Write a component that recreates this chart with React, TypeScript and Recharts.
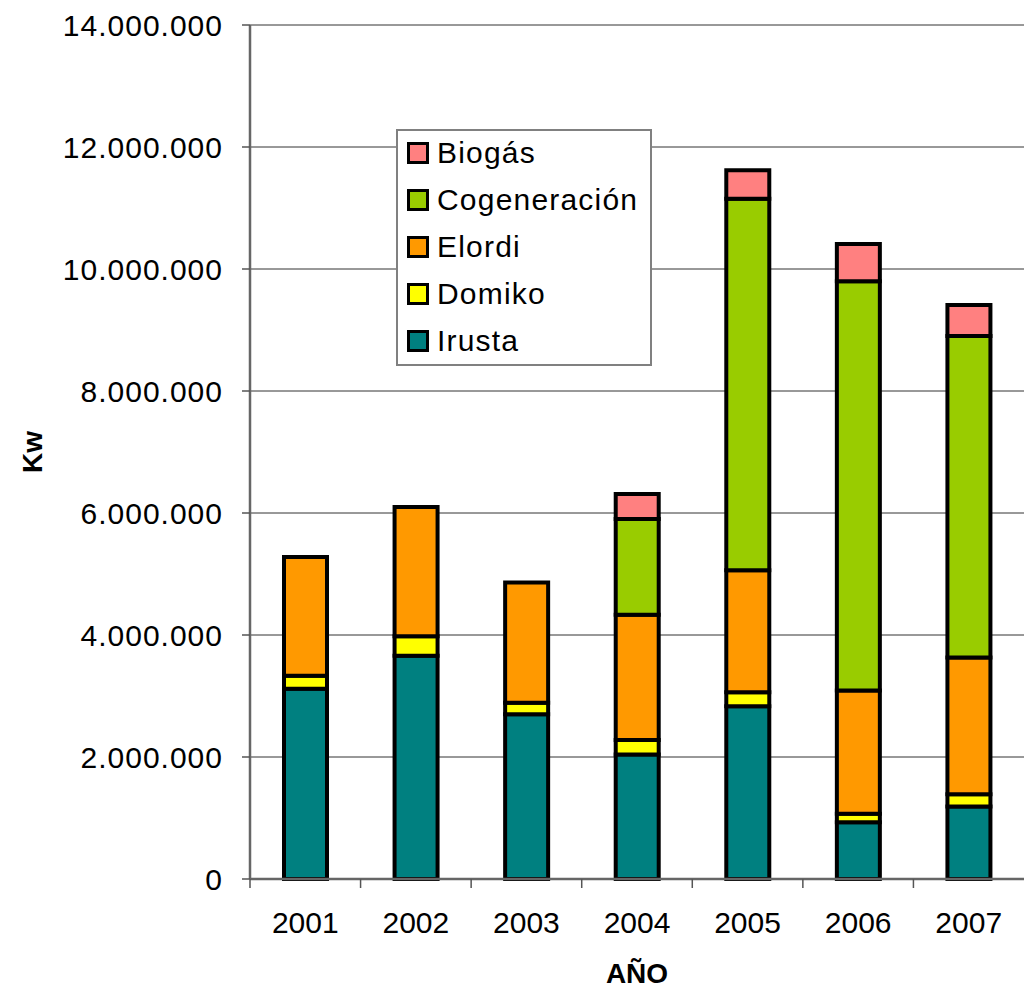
import { BarChart, Bar, XAxis, YAxis, CartesianGrid, Legend, Label } from 'recharts';

const years = ['2001', '2002', '2003', '2004', '2005', '2006', '2007'];

// kW per source
const irusta = [3120000, 3660000, 2700000, 2040000, 2830000, 930000, 1190000];
const domiko = [210000, 320000, 190000, 240000, 230000, 140000, 200000];
const elordi = [1950000, 2120000, 1970000, 2050000, 2000000, 2020000, 2240000];
const cogeneracion = [0, 0, 0, 1570000, 6090000, 6710000, 5270000];
const biogas = [0, 0, 0, 410000, 470000, 610000, 510000];

const yTicks = [0, 2000000, 4000000, 6000000, 8000000, 10000000, 12000000, 14000000];

const series = [
  { key: 'irusta', name: 'Irusta', color: '#008080', values: irusta },
  { key: 'domiko', name: 'Domiko', color: '#FFFF00', values: domiko },
  { key: 'elordi', name: 'Elordi', color: '#FF9900', values: elordi },
  { key: 'cogeneracion', name: 'Cogeneración', color: '#99CC00', values: cogeneracion },
  { key: 'biogas', name: 'Biogás', color: '#FF8080', values: biogas },
];

const data = years.map((year, i) => {
  const row: Record<string, string | number> = { year };
  series.forEach((s) => {
    row[s.key] = s.values[i];
  });
  return row;
});

const FONT = '"Liberation Sans", Arial, Helvetica, sans-serif';
const WIDTH = 1025;
const HEIGHT = 990;
const MARGIN = { top: 25, right: 1, bottom: 0, left: 0 };
const Y_AXIS_WIDTH = 250;
const X_AXIS_HEIGHT = 111;
const PLOT_BOTTOM = HEIGHT - X_AXIS_HEIGHT;
const HALF_BAND = (WIDTH - MARGIN.right - Y_AXIS_WIDTH) / years.length / 2;

const formatKw = (v: number) => v.toLocaleString('de-DE');

// year label plus a tick mark on the category boundary
const XTick = (props: any) => {
  const { x, payload } = props;
  const bx = x - HALF_BAND;
  return (
    <g>
      <line x1={bx} y1={PLOT_BOTTOM} x2={bx} y2={PLOT_BOTTOM + 9} stroke="#555" strokeWidth={1.5} />
      <text x={x} y={PLOT_BOTTOM + 54} textAnchor="middle" fontSize={30} fontFamily={FONT} fill="#000">
        {payload.value}
      </text>
    </g>
  );
};

const renderLegend = () => (
  <div
    style={{
      position: 'relative',
      width: 256,
      height: 237,
      boxSizing: 'border-box',
      border: '2px solid #808080',
      background: '#fff',
      fontFamily: FONT,
      fontSize: 30,
      letterSpacing: 1.2,
      color: '#000',
    }}
  >
    {[...series].reverse().map((s, i) => (
      <div
        key={s.key}
        style={{ position: 'absolute', left: 9, top: 2 + i * 47, height: 40, display: 'flex', alignItems: 'center' }}
      >
        <span
          style={{
            display: 'inline-block',
            width: 22,
            height: 22,
            boxSizing: 'border-box',
            border: '3.5px solid #000',
            background: s.color,
            marginRight: 8,
          }}
        />
        <span style={{ lineHeight: '40px' }}>{s.name}</span>
      </div>
    ))}
  </div>
);

export default function App() {
  return (
    <div style={{ position: 'absolute', left: 0, top: 0, width: WIDTH, height: HEIGHT, background: '#fff' }}>
      <BarChart width={WIDTH} height={HEIGHT} data={data} margin={MARGIN} barSize={43}>
        <CartesianGrid vertical={false} stroke="#333" strokeWidth={1} />
        <XAxis
          dataKey="year"
          height={X_AXIS_HEIGHT}
          tickLine={false}
          tick={<XTick />}
          axisLine={{ stroke: '#666', strokeWidth: 2.5 }}
          interval={0}
        >
          <Label
            content={() => (
              <text x={637} y={983} textAnchor="middle" fontSize={28} fontWeight="bold" fontFamily={FONT} fill="#000">
                AÑO
              </text>
            )}
          />
        </XAxis>
        <YAxis
          width={Y_AXIS_WIDTH}
          domain={[0, 14000000]}
          ticks={yTicks}
          interval={0}
          tickFormatter={formatKw}
          tickSize={8}
          tickMargin={19}
          tickLine={{ stroke: '#555', strokeWidth: 1.5 }}
          axisLine={{ stroke: '#666', strokeWidth: 2.5 }}
          tick={{ fontSize: 30, fontFamily: FONT, fill: '#000', letterSpacing: 1 }}
        >
          <Label
            content={() => (
              <text
                x={32}
                y={452}
                transform="rotate(-90 32 452)"
                textAnchor="middle"
                dominantBaseline="central"
                fontSize={28}
                fontWeight="bold"
                fontFamily={FONT}
                fill="#000"
              >
                Kw
              </text>
            )}
          />
        </YAxis>
        <Legend
          layout="vertical"
          align="center"
          verticalAlign="middle"
          content={renderLegend}
          wrapperStyle={{ left: 396, top: 129, width: 256, height: 237 }}
        />
        {series.map((s) => (
          <Bar
            key={s.key}
            dataKey={s.key}
            name={s.name}
            stackId="kw"
            fill={s.color}
            stroke="#000"
            strokeWidth={4}
            isAnimationActive={false}
          />
        ))}
      </BarChart>
    </div>
  );
}
